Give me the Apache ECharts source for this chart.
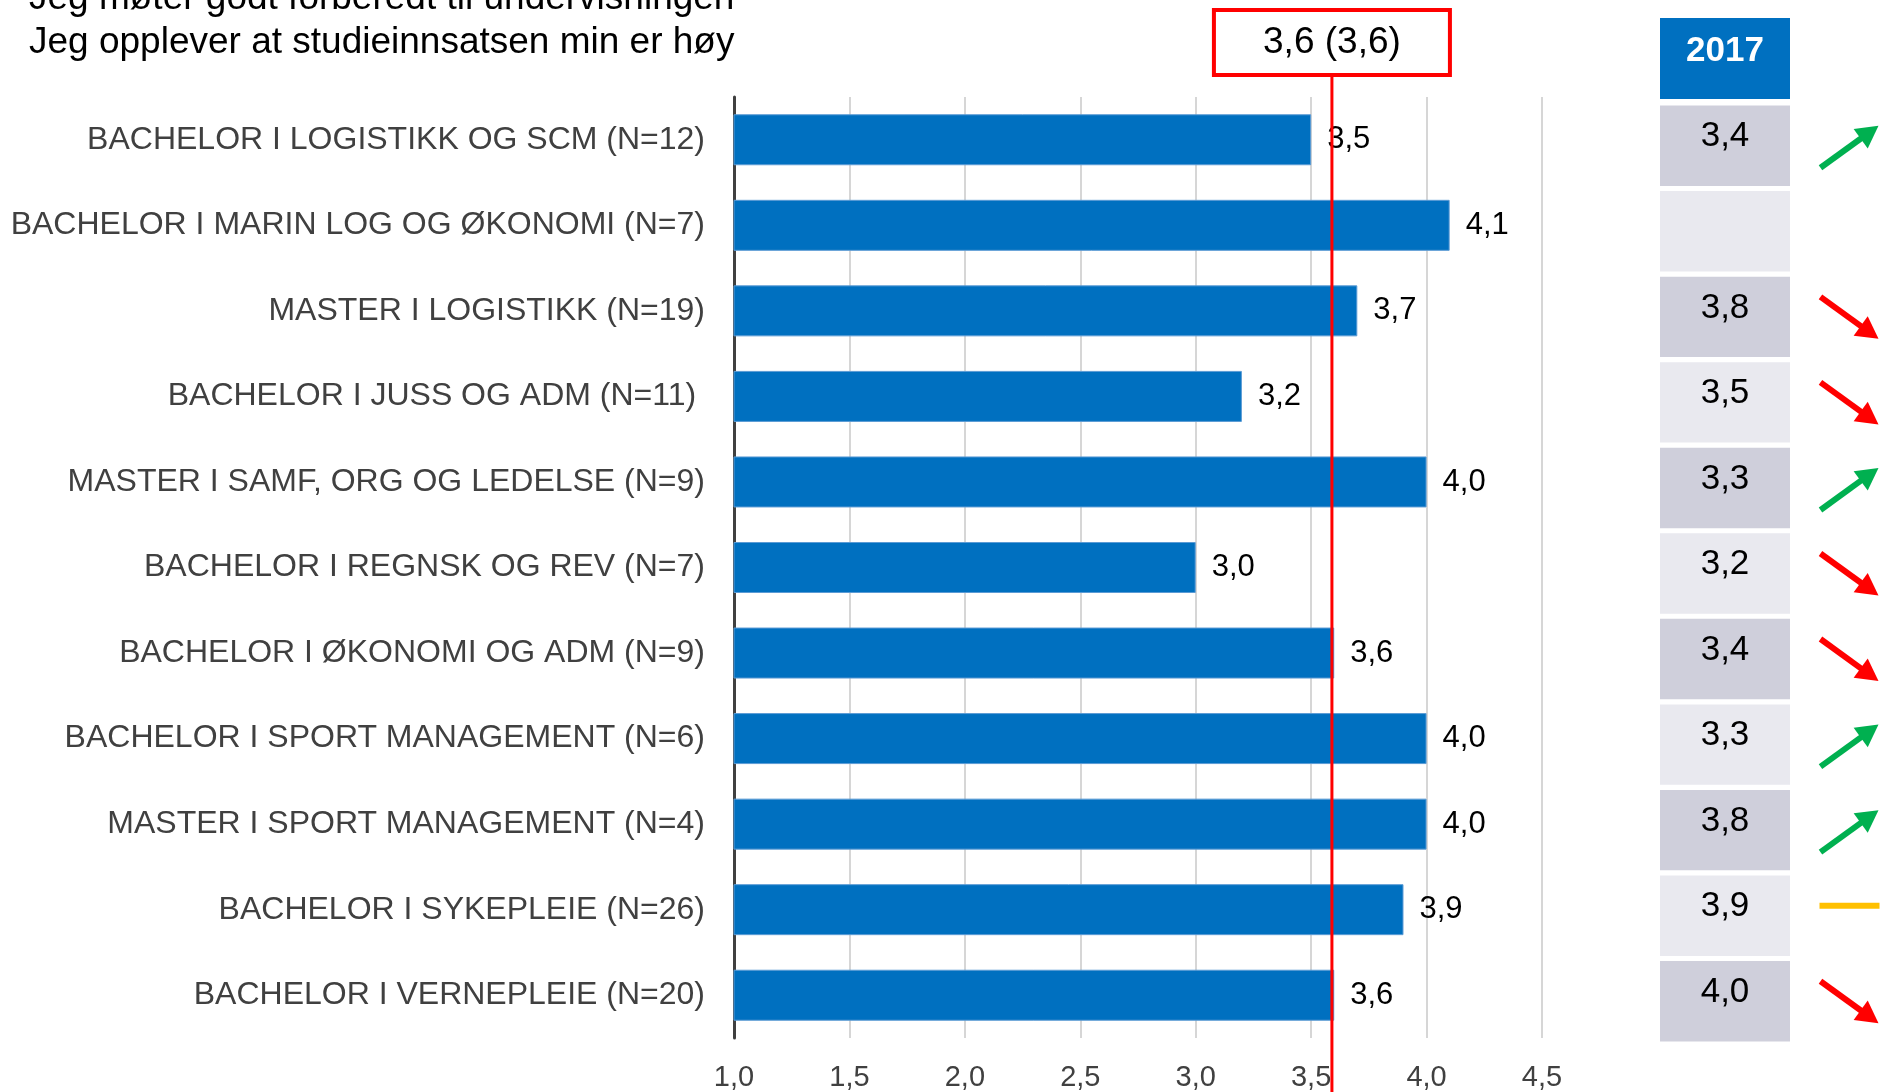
<!DOCTYPE html>
<html>
<head>
<meta charset="utf-8">
<script src="https://cdn.jsdelivr.net/npm/echarts@6/dist/echarts.min.js"></script>
<style>
  html, body { margin: 0; padding: 0; background: #fff; }
  #chart { width: 1889px; height: 1092px; }
</style>
</head>
<body>
<div id="chart"></div>
<script>
// data
var titleLines = ['Jeg møter godt forberedt til undervisningen', 'Jeg opplever at studieinnsatsen min er høy'];
var categories = [
    'BACHELOR I LOGISTIKK OG SCM (N=12)',
    'BACHELOR I MARIN LOG OG ØKONOMI (N=7)',
    'MASTER I LOGISTIKK (N=19)',
    'BACHELOR I JUSS OG ADM (N=11) ',
    'MASTER I SAMF, ORG OG LEDELSE (N=9)',
    'BACHELOR I REGNSK OG REV (N=7)',
    'BACHELOR I ØKONOMI OG ADM (N=9)',
    'BACHELOR I SPORT MANAGEMENT (N=6)',
    'MASTER I SPORT MANAGEMENT (N=4)',
    'BACHELOR I SYKEPLEIE (N=26)',
    'BACHELOR I VERNEPLEIE (N=20)'
];
var values = [3.5, 4.1, 3.7, 3.2, 4.0, 3.0, 3.6, 4.0, 4.0, 3.9, 3.6];
var values2017 = [3.4, null, 3.8, 3.5, 3.3, 3.2, 3.4, 3.3, 3.8, 3.9, 4.0];
var trends = ['up', null, 'down', 'down', 'up', 'down', 'down', 'up', 'up', 'flat', 'down'];
var avgValue = 3.59;
var avgText = '3,6 (3,6)';
var yearLabel = '2017';

var FONT = "'Liberation Sans', Arial, sans-serif";

function fmt(v) {
    return v.toFixed(1).replace('.', ',');
}

var chart = echarts.init(document.getElementById('chart'));

// cellene i tabellen til høyre
var cellData = [];
for (var i = 0; i < categories.length; i++) {
    cellData.push({
        value: 1,
        itemStyle: {color: i % 2 === 0 ? '#CFCFDB' : '#E9E9EF'}
    });
}
var trendData = [];
for (var j = 0; j < categories.length; j++) {
    trendData.push([0.5, j]);
}

var trendColors = {up: '#00B050', down: '#FF0000', flat: '#FFC000'};

function renderTrend(params, api) {
    var t = trends[params.dataIndex];
    if (!t) return null;
    var c = api.coord([0.5, params.dataIndex]);
    var color = trendColors[t];
    if (t === 'flat') {
        return {
            type: 'line',
            shape: {x1: c[0] - 30, y1: c[1] - 3, x2: c[0] + 30, y2: c[1] - 3},
            style: {stroke: color, lineWidth: 6}
        };
    }
    var cy = c[1] + 8;
    var x1 = c[0] - 29, x2 = c[0] + 29;
    var y1 = t === 'up' ? cy + 21 : cy - 21;
    var y2 = t === 'up' ? cy - 21 : cy + 21;
    var dx = x2 - x1, dy = y2 - y1;
    var len = Math.sqrt(dx * dx + dy * dy);
    var ux = dx / len, uy = dy / len;
    var nx = -uy, ny = ux;
    var hl = 22, hw = 12;
    var bx = x2 - ux * hl, by = y2 - uy * hl;
    return {
        type: 'group',
        children: [
            {
                type: 'line',
                shape: {x1: x1, y1: y1, x2: bx + ux * 2, y2: by + uy * 2},
                style: {stroke: color, lineWidth: 6}
            },
            {
                type: 'polygon',
                shape: {points: [[x2, y2], [bx + nx * hw, by + ny * hw], [bx - nx * hw, by - ny * hw]]},
                style: {fill: color}
            }
        ]
    };
}

var option = {
    animation: false,
    textStyle: {fontFamily: FONT},
    title: {
        text: titleLines.join('\n'),
        left: 29,
        top: -23,
        padding: 0,
        textStyle: {fontFamily: FONT, fontSize: 37, fontWeight: 'normal', color: '#000', lineHeight: 44}
    },
    grid: [
        {left: 734, top: 97, width: 808, height: 941},
        {left: 1660, top: 103, width: 130, height: 941},
        {left: 1810, top: 96, width: 80, height: 941}
    ],
    xAxis: [
        {
            gridIndex: 0,
            type: 'value',
            min: 1,
            max: 4.5,
            interval: 0.5,
            axisLine: {show: false},
            axisTick: {show: false},
            splitLine: {lineStyle: {color: '#c8c8c8', width: 1.5}},
            axisLabel: {
                margin: 25,
                fontSize: 29,
                color: '#404040',
                fontFamily: FONT,
                formatter: function (v) { return fmt(v); }
            }
        },
        {gridIndex: 1, type: 'value', min: 0, max: 1, show: false},
        {gridIndex: 2, type: 'value', min: 0, max: 1, show: false}
    ],
    yAxis: [
        {
            gridIndex: 0,
            type: 'category',
            inverse: true,
            data: categories,
            axisLine: {lineStyle: {color: '#404040', width: 3}},
            axisTick: {show: false},
            axisLabel: {margin: 29, fontSize: 32, color: '#404040', fontFamily: FONT}
        },
        {gridIndex: 1, type: 'category', inverse: true, data: categories, show: false},
        {gridIndex: 2, type: 'category', inverse: true, data: categories, show: false}
    ],
    series: [
        {
            type: 'bar',
            xAxisIndex: 0,
            yAxisIndex: 0,
            data: values,
            barWidth: 51,
            itemStyle: {color: '#0070C0', borderColor: '#5B9BD5', borderWidth: 1},
            label: {
                show: true,
                position: 'right',
                distance: 16,
                fontSize: 31,
                color: '#000',
                fontFamily: FONT,
                formatter: function (p) { return fmt(p.value); }
            }
        },
        {
            type: 'bar',
            xAxisIndex: 1,
            yAxisIndex: 1,
            data: cellData,
            barCategoryGap: '6%',
            silent: true,
            label: {
                show: true,
                position: 'inside',
                offset: [0, -9],
                fontSize: 35,
                color: '#000',
                fontFamily: FONT,
                formatter: function (p) {
                    var v = values2017[p.dataIndex];
                    return v == null ? '' : fmt(v);
                }
            }
        },
        {
            type: 'custom',
            xAxisIndex: 2,
            yAxisIndex: 2,
            data: trendData,
            renderItem: renderTrend,
            silent: true
        }
    ]
};
chart.setOption(option);

// rød snittlinje og boks, plassert via aksen
var avgX = chart.convertToPixel({xAxisIndex: 0}, avgValue);
chart.setOption({
    graphic: [
        {
            type: 'line',
            shape: {x1: avgX, y1: 75, x2: avgX, y2: 1092},
            style: {stroke: '#FF0000', lineWidth: 3},
            z: 100
        },
        {
            type: 'rect',
            shape: {x: avgX - 118, y: 10, width: 236, height: 65},
            style: {fill: '#fff', stroke: '#FF0000', lineWidth: 4},
            z: 100
        },
        {
            type: 'text',
            x: avgX,
            y: 43,
            style: {text: avgText, fontSize: 37, fontFamily: FONT, fill: '#000', align: 'center', verticalAlign: 'middle'},
            z: 101
        },
        {
            type: 'rect',
            shape: {x: 1660, y: 18, width: 130, height: 81},
            style: {fill: '#0070C0'},
            z: 100
        },
        {
            type: 'text',
            x: 1725,
            y: 51,
            style: {text: yearLabel, fontSize: 35, fontWeight: 'bold', fontFamily: FONT, fill: '#fff', align: 'center', verticalAlign: 'middle'},
            z: 101
        }
    ]
});
</script>
</body>
</html>
